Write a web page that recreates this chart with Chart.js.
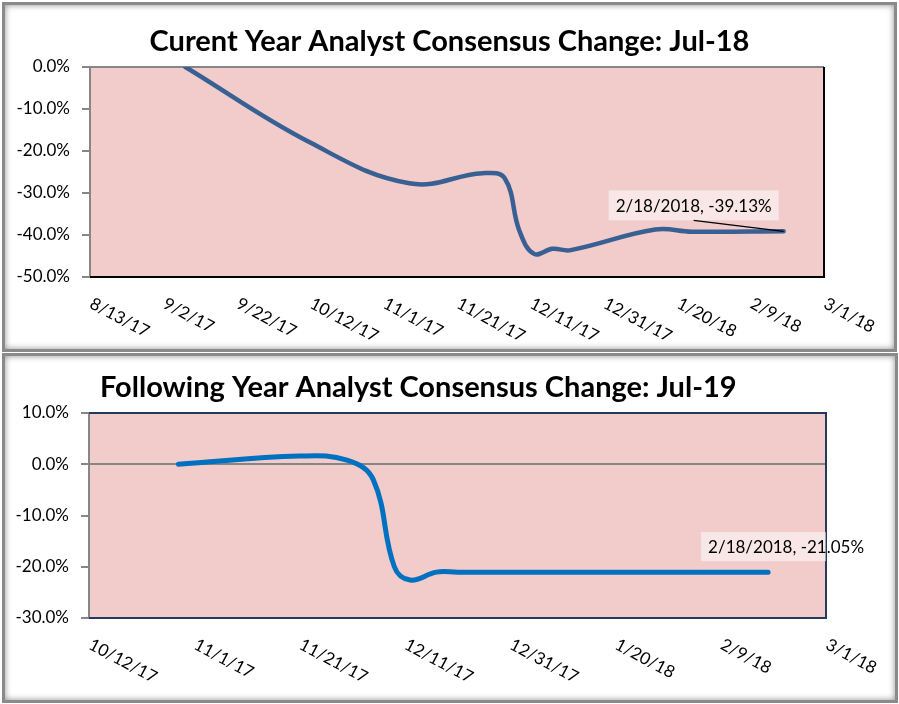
<!DOCTYPE html>
<html><head><meta charset="utf-8">
<script src="https://cdn.jsdelivr.net/npm/chart.js@4/dist/chart.umd.min.js"></script>
<style>
html,body{margin:0;padding:0;background:#fff;}
body{width:899px;height:704px;position:relative;overflow:hidden;}
.box{position:absolute;box-sizing:border-box;border:3px solid #8a8a8a;box-shadow:inset 0 0 6px rgba(0,0,0,0.45);background:#fff;}
#b1{left:2px;top:2px;width:895px;height:350px;}
#b2{left:2px;top:353px;width:896px;height:350px;}
canvas{position:absolute;left:0;}
#c1{top:0;}
#c2{top:352px;}
</style></head><body>
<div class="box" id="b1"></div><div class="box" id="b2"></div>
<canvas id="c1" width="899" height="352"></canvas>
<canvas id="c2" width="899" height="352"></canvas>
<script>
// ---------- data ----------
const title1 = 'Curent Year Analyst Consensus Change: Jul-18';
const title2 = 'Following Year Analyst Consensus Change: Jul-19';

const dates1  = ['9/8/2017','10/12/2017','11/8/2017','11/28/2017','12/4/2017','12/8/2017','12/12/2017','12/17/2017','12/22/2017','1/14/2018','1/24/2018','2/18/2018'];
const values1 = [0, -18.0, -27.7, -25.3, -26.5, -39.0, -44.5, -43.3, -43.6, -38.7, -39.2, -39.13];

const dates2  = ['10/29/2017','11/21/2017','11/30/2017','12/5/2017','12/9/2017','12/12/2017','12/17/2017','12/21/2017','1/15/2018','2/18/2018'];
const values2 = [0, 1.6, 0.8, -3.0, -20.0, -22.6, -21.05, -21.05, -21.05, -21.05];

const xTickLabels1 = ['8/13/17','9/2/17','9/22/17','10/12/17','11/1/17','11/21/17','12/11/17','12/31/17','1/20/18','2/9/18','3/1/18'];
const xTickLabels2 = ['10/12/17','11/1/17','11/21/17','12/11/17','12/31/17','1/20/18','2/9/18','3/1/18'];
const yTicks1 = [0, -10, -20, -30, -40, -50];
const yTicks2 = [10, 0, -10, -20, -30];

// ---------- helpers ----------
function dayNum(s){
  const p = s.split('/').map(Number);
  const y = p[2] < 100 ? 2000 + p[2] : p[2];
  return Date.UTC(y, p[0]-1, p[1]) / 86400000;
}
const FONT = 'Lato, "Open Sans", sans-serif';

const decor = {
  id: 'decor',
  beforeDraw(chart, args, o){
    const {ctx, chartArea:a} = chart;
    ctx.save();
    ctx.fillStyle = o.plotBg;
    ctx.fillRect(a.left, a.top, a.right-a.left, a.bottom-a.top);
    ctx.restore();
  },
  afterDraw(chart, args, o){
    const {ctx, chartArea:a} = chart;
    const xs = chart.scales.x, ys = chart.scales.y;
    ctx.save();
    ctx.lineWidth = 2;
    o.borders.forEach(b => {
      ctx.strokeStyle = b.color;
      ctx.beginPath();
      if (b.side === 'top'){ ctx.moveTo(a.left, a.top); ctx.lineTo(a.right+1, a.top); }
      if (b.side === 'bottom'){ ctx.moveTo(a.left, a.bottom); ctx.lineTo(a.right+1, a.bottom); }
      if (b.side === 'right'){ ctx.moveTo(a.right, a.top); ctx.lineTo(a.right, a.bottom+1); }
      if (b.side === 'left'){ ctx.moveTo(a.left, a.top); ctx.lineTo(a.left, a.bottom+1); }
      ctx.stroke();
    });
    // title
    ctx.fillStyle = '#000';
    ctx.font = 'bold ' + o.title.size + 'px ' + FONT;
    ctx.textAlign = o.title.align;
    ctx.textBaseline = 'middle';
    ctx.fillText(o.title.text, o.title.x, o.title.y);
    // rotated x labels
    ctx.font = o.tickSize + 'px ' + FONT;
    ctx.textAlign = 'left';
    ctx.textBaseline = 'top';
    xs.ticks.forEach((t, i) => {
      const px = xs.getPixelForValue(t.value);
      ctx.save();
      ctx.translate(px + o.xLab.dx, a.bottom + o.xLab.dy);
      ctx.rotate(o.xLab.angle * Math.PI / 180);
      ctx.fillText(o.xLab.labels[i], 0, 0);
      ctx.restore();
    });
    // annotation of last point
    const ds = chart.data.datasets[0];
    const last = ds.data[ds.data.length-1];
    const px = xs.getPixelForValue(last.x), py = ys.getPixelForValue(last.y);
    const txt = last.d + ', ' + last.y.toFixed(2) + '%';
    ctx.font = o.tickSize + 'px ' + FONT;
    const tw = ctx.measureText(txt).width;
    const bx = px + o.annot.dx, by = py + o.annot.dy, bw = tw + 14, bh = o.annot.h;
    ctx.save();
    ctx.beginPath(); ctx.rect(a.left, a.top, a.right-a.left, a.bottom-a.top); ctx.clip();
    ctx.fillStyle = 'rgba(255,255,255,0.55)';
    ctx.fillRect(bx, by, bw, bh);
    ctx.restore();
    if (o.annot.leader){
      ctx.strokeStyle = '#000'; ctx.lineWidth = 1.3;
      ctx.beginPath(); ctx.moveTo(bx + bw/2, by + bh); ctx.lineTo(px, py); ctx.stroke();
    }
    ctx.fillStyle = '#000';
    ctx.textAlign = 'left'; ctx.textBaseline = 'middle';
    ctx.fillText(txt, bx + 7, by + bh/2 + 1);
    ctx.restore();
  }
};

function makeChart(id, dates, values, xLabels, yTicks, color, lw, pad, titleOpt, borders, annot){
  const pts = dates.map((d,i) => ({x: dayNum(d), y: values[i], d: d}));
  return new Chart(document.getElementById(id), {
    type: 'line',
    data: { datasets: [{ data: pts, borderColor: color, borderWidth: lw, pointRadius: 0, tension: 0.4, fill: false, borderCapStyle: 'round' }] },
    options: {
      responsive: false, animation: false, events: [],
      layout: { padding: pad },
      plugins: { legend: {display:false}, tooltip: {enabled:false}, title: {display:false},
        decor: { plotBg: '#f2cbcb', borders: borders, title: titleOpt, tickSize: 17,
                 xLab: {dx: 5, dy: 18, angle: 28, labels: xLabels}, annot: annot } },
      scales: {
        x: { type: 'linear', display: false,
             min: dayNum(xLabels[0]), max: dayNum(xLabels[xLabels.length-1]),
             afterBuildTicks: s => { s.ticks = xLabels.map(l => ({value: dayNum(l)})); },
             ticks: { callback: (v, i) => xLabels[i] } },
        y: { type: 'linear', min: yTicks[yTicks.length-1], max: yTicks[0],
             afterBuildTicks: s => { s.ticks = yTicks.map(v => ({value: v})); },
             afterFit: s => { s.width = pad.yw; },
             border: { display: true, color: '#868686', width: 2 },
             grid: { drawOnChartArea: true, tickLength: 8, tickColor: '#868686', tickWidth: 2,
                     lineWidth: 2, color: c => (c.tick && c.tick.value === 0) ? '#868686' : 'rgba(0,0,0,0)' },
             ticks: { padding: 12, color: '#000', font: {family: FONT, size: 17},
                      callback: v => v.toFixed(1) + '%' } }
      }
    },
    plugins: [decor]
  });
}

makeChart('c1', dates1, values1, xTickLabels1, yTicks1, '#386092', 4.5,
  {top: 67, bottom: 75, right: 75, left: 0, yw: 90},
  {text: title1, x: 449.5, y: 42, align: 'center', size: 29},
  [{side:'right', color:'#000'}, {side:'bottom', color:'#000'}],
  {dx: -175, dy: -41, h: 30, leader: true});

makeChart('c2', dates2, values2, xTickLabels2, yTicks2, '#0070c0', 5,
  {top: 61, bottom: 86, right: 73, left: 0, yw: 89},
  {text: title2, x: 100, y: 36, align: 'left', size: 29},
  [{side:'top', color:'#243b5e'}, {side:'right', color:'#243b5e'}, {side:'bottom', color:'#243b5e'}],
  {dx: -67, dy: -40, h: 29, leader: false});
</script>
</body></html>
